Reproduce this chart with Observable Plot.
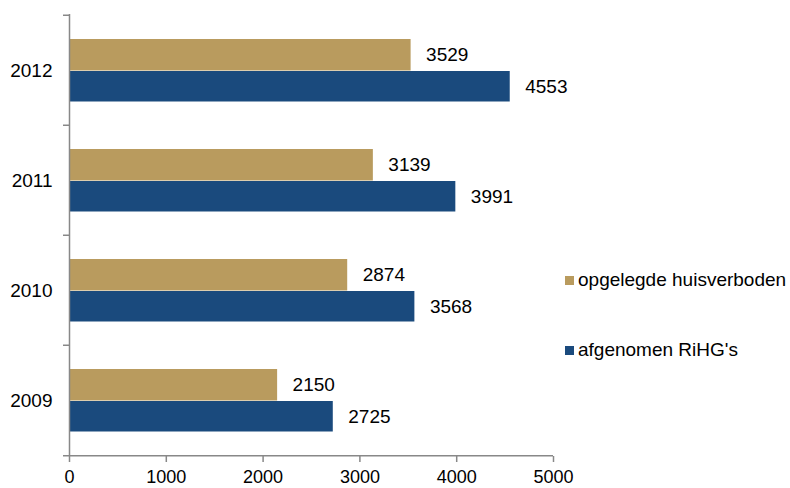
<!DOCTYPE html>
<html><head><meta charset="utf-8">
<script src="https://cdn.jsdelivr.net/npm/d3@7"></script>
<script src="https://cdn.jsdelivr.net/npm/@observablehq/plot@0.6"></script>
<style>
body{margin:0;background:#fff;font-family:"Liberation Sans",Arial,sans-serif;}
#wrap{position:relative;width:790px;height:488px;}
.leg{position:absolute;left:565px;display:flex;align-items:center;font-size:19px;color:#000;white-space:nowrap;height:20px;}
.leg i{display:inline-block;width:9px;height:9px;margin-right:4px;}
</style></head><body><div id="wrap"></div>
<script>
const years = ["2012", "2011", "2010", "2009"];
const huisverboden = [3529, 3139, 2874, 2150];
const rihg = [4553, 3991, 3568, 2725];
const seriesNames = ["opgelegde huisverboden", "afgenomen RiHG's"];
const colors = ["#B99B5E", "#1A4A7D"];
const xTicks = [0, 1000, 2000, 3000, 4000, 5000];

const tanRows = years.map((y, i) => ({year: y, value: huisverboden[i]}));
const blueRows = years.map((y, i) => ({year: y, value: rihg[i]}));
const gray = "#888";

const chart = Plot.plot({
  width: 790,
  height: 488,
  marginLeft: 69,
  marginRight: 237,
  marginTop: 14,
  marginBottom: 32,
  style: {fontSize: "19px", fontFamily: "'Liberation Sans', Arial, sans-serif", color: "#000", background: "#fff"},
  x: {domain: [0, 5000]},
  y: {domain: years, padding: 0},
  marks: [
    Plot.barX(tanRows, {x: "value", y: "year", fill: colors[0], insetTop: 24, insetBottom: 54.5}),
    Plot.barX(blueRows, {x: "value", y: "year", fill: colors[1], insetTop: 56, insetBottom: 23.5}),
    Plot.text(tanRows, {x: "value", y: "year", text: d => String(d.value), textAnchor: "start", dx: 15, dy: -16, fill: "#000"}),
    Plot.text(blueRows, {x: "value", y: "year", text: d => String(d.value), textAnchor: "start", dx: 15, dy: 16, fill: "#000"}),
    Plot.ruleX([0], {stroke: gray, strokeWidth: 1.5}),
    Plot.axisY({tickSize: 0, tickPadding: 17, fontSize: 19, fill: "#000", label: null}),
    Plot.axisY({tickSize: 6, tickFormat: () => "", dy: -55.25, stroke: gray, strokeWidth: 1.5, label: null}),
    Plot.axisY({ticks: ["2009"], tickSize: 6, tickFormat: () => "", dy: 55.25, stroke: gray, strokeWidth: 1.5, label: null}),
    Plot.ruleY([0], {y: () => "2009", dy: 55.25, stroke: gray, strokeWidth: 1.5}),
    Plot.axisX({ticks: xTicks, tickFormat: d => String(d), tickSize: 6, tickPadding: 8, fontSize: 18, stroke: gray, strokeWidth: 1.5, fill: "#000", label: null})
  ]
});
const wrap = document.getElementById("wrap");
wrap.appendChild(chart);
const legTops = [270, 340];
seriesNames.forEach((n, i) => {
  const d = document.createElement("div");
  d.className = "leg";
  d.style.top = legTops[i] + "px";
  d.innerHTML = `<i style="background:${colors[i]}"></i><span></span>`;
  d.querySelector("span").textContent = n;
  wrap.appendChild(d);
});
</script>
</body></html>
